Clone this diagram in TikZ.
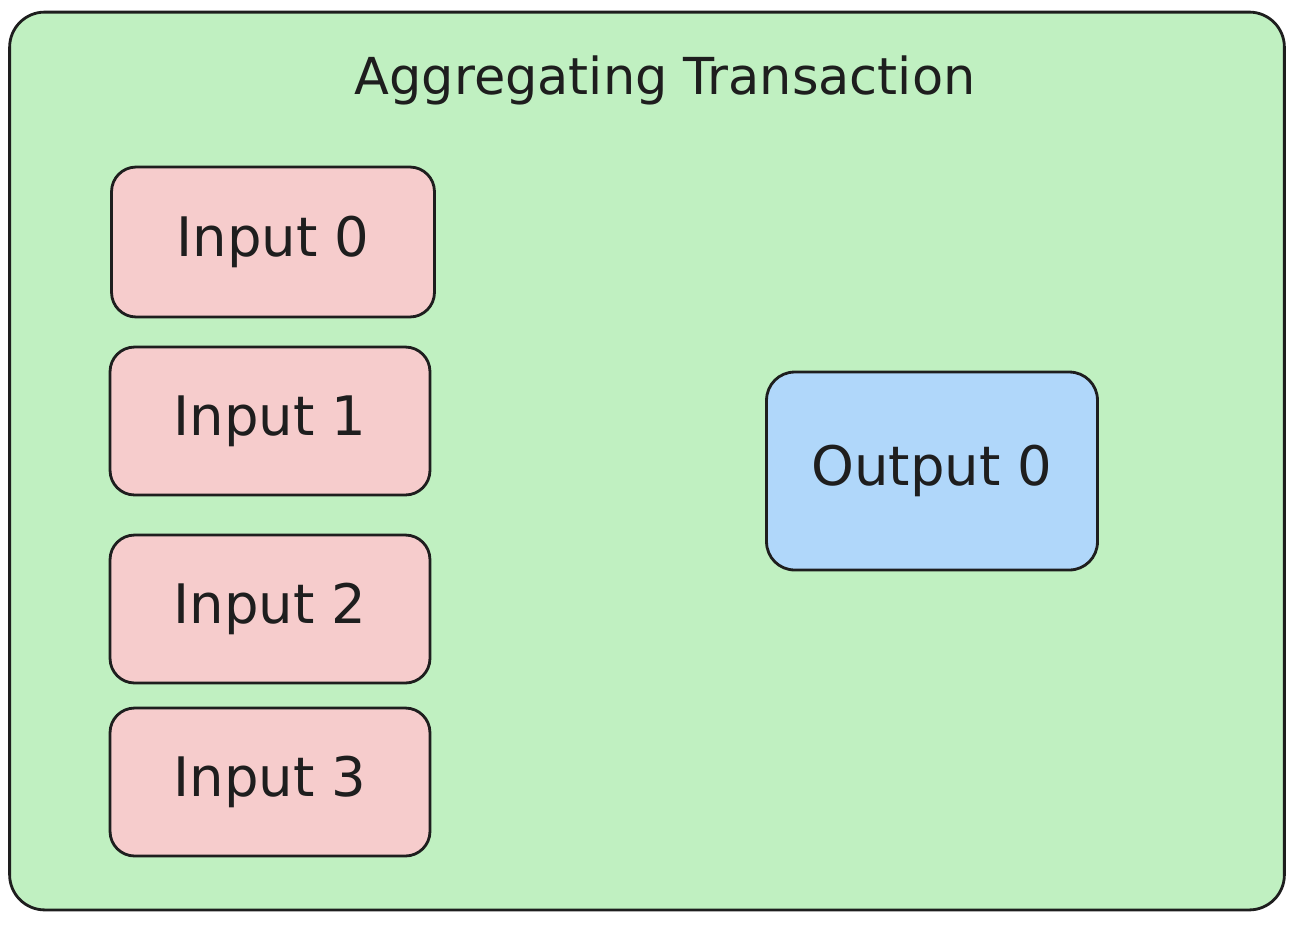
\documentclass[tikz,border=0pt]{standalone}
\usepackage{fontspec}
\setmainfont{DejaVu Sans}
\definecolor{txgreen}{RGB}{192,240,193}
\definecolor{inred}{RGB}{246,204,204}
\definecolor{outblue}{RGB}{176,215,250}
\definecolor{ink}{RGB}{30,30,30}
\begin{document}
\begin{tikzpicture}[x=0.02cm,y=-0.02cm,thick,
  txbox/.style={draw=ink,line width=1.6pt,fill=txgreen,rounded corners=20pt,minimum width=25.5cm,minimum height=17.96cm},
  inbox/.style={draw=ink,line width=1.6pt,fill=inred,rounded corners=14pt,minimum width=6.4cm,minimum height=2.96cm,font=\fontsize{31}{36}\selectfont},
  outbox/.style={draw=ink,line width=1.6pt,fill=outblue,rounded corners=16pt,minimum width=6.62cm,minimum height=3.96cm,font=\fontsize{31}{36}\selectfont}]
\useasboundingbox (0,0) rectangle (1300,924);
\node[txbox] (tx) at (647,461) {};
\node[text=ink,font=\fontsize{29}{36}\selectfont] (title) at (665,80) {Aggregating Transaction};
\node[inbox,text=ink,minimum width=6.46cm,minimum height=3cm] (in0) at (273,242) {Input 0};
\node[inbox,text=ink] (in1) at (270,421) {Input 1};
\node[inbox,text=ink] (in2) at (270,609) {Input 2};
\node[inbox,text=ink] (in3) at (270,782) {Input 3};
\node[outbox,text=ink] (out0) at (932,471) {Output 0};
\end{tikzpicture}
\end{document}
